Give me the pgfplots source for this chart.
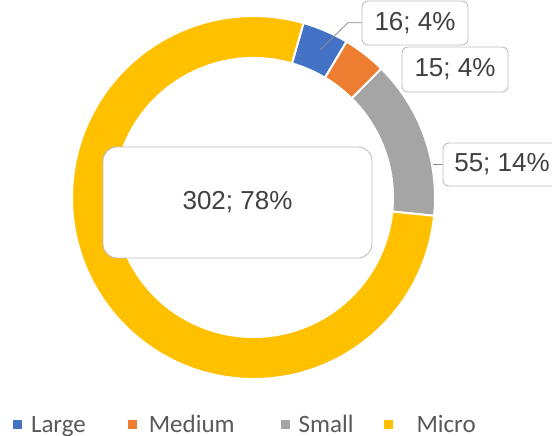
\documentclass[border=0pt]{standalone}
\usepackage{pgfplots}
\pgfplotsset{compat=1.18}
\usepackage{pgfplotstable}
\usepackage{fontspec}
\setmainfont{Liberation Sans}
\newfontfamily\legfont{Carlito}
\definecolor{cLarge}{HTML}{4472C4}
\definecolor{cMedium}{HTML}{ED7D31}
\definecolor{cSmall}{HTML}{A5A5A5}
\definecolor{cMicro}{HTML}{FFC000}
\definecolor{txt}{HTML}{404040}
\definecolor{legtxt}{HTML}{595959}
\definecolor{boxline}{HTML}{BFBFBF}
\begin{document}
\begin{tikzpicture}
\pgfplotstableread{
name value
Large 16
Medium 15
Small 55
Micro 302
}\donutdata
\pgfplotstablegetelem{0}{value}\of\donutdata\edef\vA{\pgfplotsretval}
\pgfplotstablegetelem{1}{value}\of\donutdata\edef\vB{\pgfplotsretval}
\pgfplotstablegetelem{2}{value}\of\donutdata\edef\vC{\pgfplotsretval}
\pgfplotstablegetelem{3}{value}\of\donutdata\edef\vD{\pgfplotsretval}
\pgfmathsetmacro\tot{\vA+\vB+\vC+\vD}
\pgfmathsetmacro\aO{74}
\pgfmathsetmacro\aA{\aO-360*(\vA/\tot)}
\pgfmathsetmacro\aB{\aA-360*(\vB/\tot)}
\pgfmathsetmacro\aC{\aB-360*(\vC/\tot)}
\pgfmathsetmacro\aD{\aC-360*(\vD/\tot)}
\def\Ro{181.5pt}
\def\Ri{139.5pt}
\begin{axis}[
  width=552pt, height=436pt, scale only axis,
  xmin=0, xmax=552, ymin=0, ymax=436,
  hide axis, clip=false,
  legend style={at={(axis cs:13,11)}, anchor=west, draw=none, fill=none,
    inner sep=0pt, outer sep=0pt,
    font=\legfont\fontsize{25}{30}\selectfont, text=legtxt,
    legend columns=4,
    /tikz/column 1/.style={column sep=7pt},
    /tikz/column 2/.style={column sep=40pt},
    /tikz/column 3/.style={column sep=10pt},
    /tikz/column 4/.style={column sep=44pt},
    /tikz/column 5/.style={column sep=7pt},
    /tikz/column 6/.style={column sep=28pt},
    /tikz/column 7/.style={column sep=22pt}},
  legend image code/.code={\fill (0pt,-4.5pt) rectangle (9pt,4.5pt);},
]
\addlegendimage{fill=cLarge, draw=none}
\addlegendentry{Large}
\addlegendimage{fill=cMedium, draw=none}
\addlegendentry{Medium}
\addlegendimage{fill=cSmall, draw=none}
\addlegendentry{Small}
\addlegendimage{fill=cMicro, draw=none}
\addlegendentry{Micro}

\begin{scope}[shift={(axis cs:253.5,238.5)}]
\filldraw[fill=cLarge, draw=white, line width=2pt] (\aO:\Ro) arc[start angle=\aO, end angle=\aA, radius=\Ro] -- (\aA:\Ri) arc[start angle=\aA, end angle=\aO, radius=\Ri] -- cycle;
\filldraw[fill=cMedium, draw=white, line width=2pt] (\aA:\Ro) arc[start angle=\aA, end angle=\aB, radius=\Ro] -- (\aB:\Ri) arc[start angle=\aB, end angle=\aA, radius=\Ri] -- cycle;
\filldraw[fill=cSmall, draw=white, line width=2pt] (\aB:\Ro) arc[start angle=\aB, end angle=\aC, radius=\Ro] -- (\aC:\Ri) arc[start angle=\aC, end angle=\aB, radius=\Ri] -- cycle;
\filldraw[fill=cMicro, draw=white, line width=2pt] (\aC:\Ro) arc[start angle=\aC, end angle=\aD, radius=\Ro] -- (\aD:\Ri) arc[start angle=\aD, end angle=\aC, radius=\Ri] -- cycle;
\end{scope}

\draw[black!45, line width=0.8pt] (axis cs:320,386) -- (axis cs:348,413.3) -- (axis cs:362,413.3);
\draw[black!45, line width=0.8pt] (axis cs:433,272) -- (axis cs:443,272);

\tikzset{lbl/.style={draw=boxline, line width=0.9pt, rounded corners=6pt, fill=white, text=txt, inner sep=0pt, font=\fontsize{26}{30}\selectfont}}
\node[lbl, minimum width=106pt, minimum height=44pt] at (axis cs:415,413) {16; 4\%};
\node[lbl, minimum width=106pt, minimum height=45pt] at (axis cs:455,366.5) {15; 4\%};
\node[lbl, minimum width=118pt, minimum height=43pt] at (axis cs:502,271.5) {55; 14\%};
\node[lbl, rounded corners=14pt, minimum width=269pt, minimum height=111pt] at (axis cs:237.5,233.5) {302; 78\%};
\end{axis}
\pgfresetboundingbox
\path[use as bounding box] (0,0) rectangle (552pt,436pt);
\end{tikzpicture}
\end{document}
